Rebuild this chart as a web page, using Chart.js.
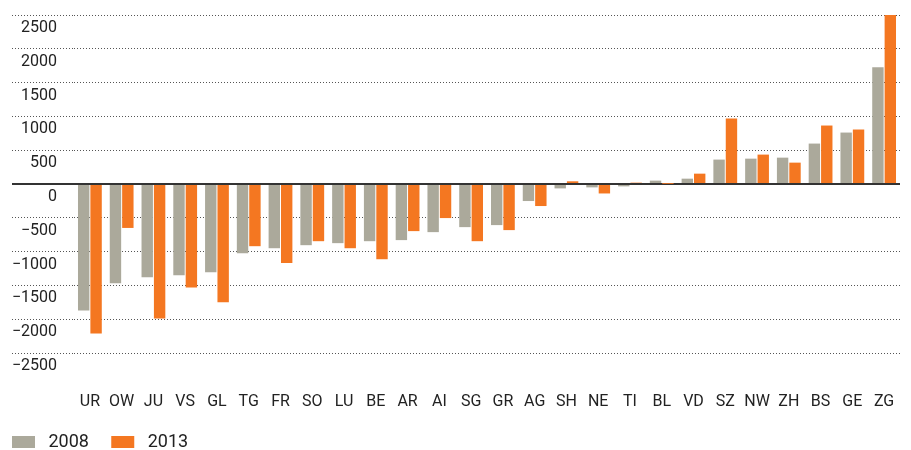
<!DOCTYPE html>
<html>
<head>
<meta charset="utf-8">
<script src="https://cdn.jsdelivr.net/npm/chart.js@4.4.1/dist/chart.umd.min.js"></script>
<style>
    body { margin: 0; background: #fff; }
    #wrap { width: 911px; height: 450px; position: relative; }
</style>
</head>
<body>
<div id="wrap"><canvas id="chart"></canvas></div>
<script>
// Kantone
const cantons = ['UR', 'OW', 'JU', 'VS', 'GL', 'TG', 'FR', 'SO', 'LU', 'BE', 'AR', 'AI', 'SG',
    'GR', 'AG', 'SH', 'NE', 'TI', 'BL', 'VD', 'SZ', 'NW', 'ZH', 'BS', 'GE', 'ZG'];

// Werte 2008 und 2013
const values2008 = [-1870, -1470, -1380, -1350, -1305, -1025, -950, -905, -875, -846, -830, -712, -638,
    -608, -252, -65, -50, -35, 50, 79, 361, 375, 390, 598, 761, 1726];
const values2013 = [-2210, -650, -1990, -1530, -1750, -920, -1170, -846, -950, -1113, -697, -504, -846,
    -682, -326, 40, -140, 20, 3, 153, 969, 435, 316, 865, 806, 2500];

// Achse
const yMin = -2500;
const yMax = 2500;
const yStep = 500;

const GREY = '#aba99b';
const ORANGE = '#f47721';
const TEXT = '#222';
const GRID = '#555';

const font = { family: 'Roboto', size: 16 };

function isZero(ctx) {
    return ctx.tick && ctx.tick.value === 0;
}

new Chart(document.getElementById('chart'), {
    type: 'bar',
    data: {
        labels: cantons,
        datasets: [
            { label: '2008', data: values2008, backgroundColor: GREY },
            { label: '2013', data: values2013, backgroundColor: ORANGE }
        ]
    },
    options: {
        responsive: true,
        maintainAspectRatio: false,
        animation: false,
        categoryPercentage: 0.78,
        barPercentage: 0.92,
        // Legende ganz unten, deshalb unten negativ
        layout: { padding: { left: 12, right: 11, top: 15, bottom: -11 } },
        plugins: {
            tooltip: { enabled: false },
            legend: {
                position: 'bottom',
                align: 'start',
                labels: {
                    color: TEXT,
                    font: { family: 'Roboto', size: 18 },
                    boxWidth: 23,
                    boxHeight: 12,
                    padding: 0,
                    // etwas Luft zwischen Kästchen, Text und nächstem Eintrag
                    generateLabels: function(chart) {
                        const items = Chart.defaults.plugins.legend.labels.generateLabels(chart);
                        items.forEach(function(item) {
                            item.text = ' ' + item.text + '     ';
                            item.lineWidth = 0;
                        });
                        return items;
                    }
                }
            }
        },
        scales: {
            x: {
                grid: { display: false, drawTicks: true, tickLength: 39 },
                border: { display: false },
                ticks: { color: TEXT, font: font, padding: 0, maxRotation: 0, autoSkip: false },
                afterFit: function(scale) { scale.height = 80; }
            },
            y: {
                min: yMin,
                max: yMax,
                border: {
                    display: false,
                    dash: function(ctx) { return isZero(ctx) ? [] : [1, 2]; }
                },
                grid: {
                    color: function(ctx) { return isZero(ctx) ? '#333' : GRID; },
                    lineWidth: function(ctx) { return isZero(ctx) ? 2 : 1; },
                    tickLength: 62,
                    tickColor: function(ctx) { return isZero(ctx) ? '#333' : GRID; },
                    tickWidth: function(ctx) { return isZero(ctx) ? 2 : 1; },
                    tickBorderDash: function(ctx) { return isZero(ctx) ? [] : [1, 2]; }
                },
                ticks: {
                    stepSize: yStep,
                    color: TEXT,
                    font: font,
                    padding: -45,
                    labelOffset: 13,
                    callback: function(value) {
                        return value < 0 ? '\u2212' + Math.abs(value) : String(value);
                    }
                },
                afterFit: function(scale) { scale.width = 62; }
            }
        }
    }
});
</script>
</body>
</html>
